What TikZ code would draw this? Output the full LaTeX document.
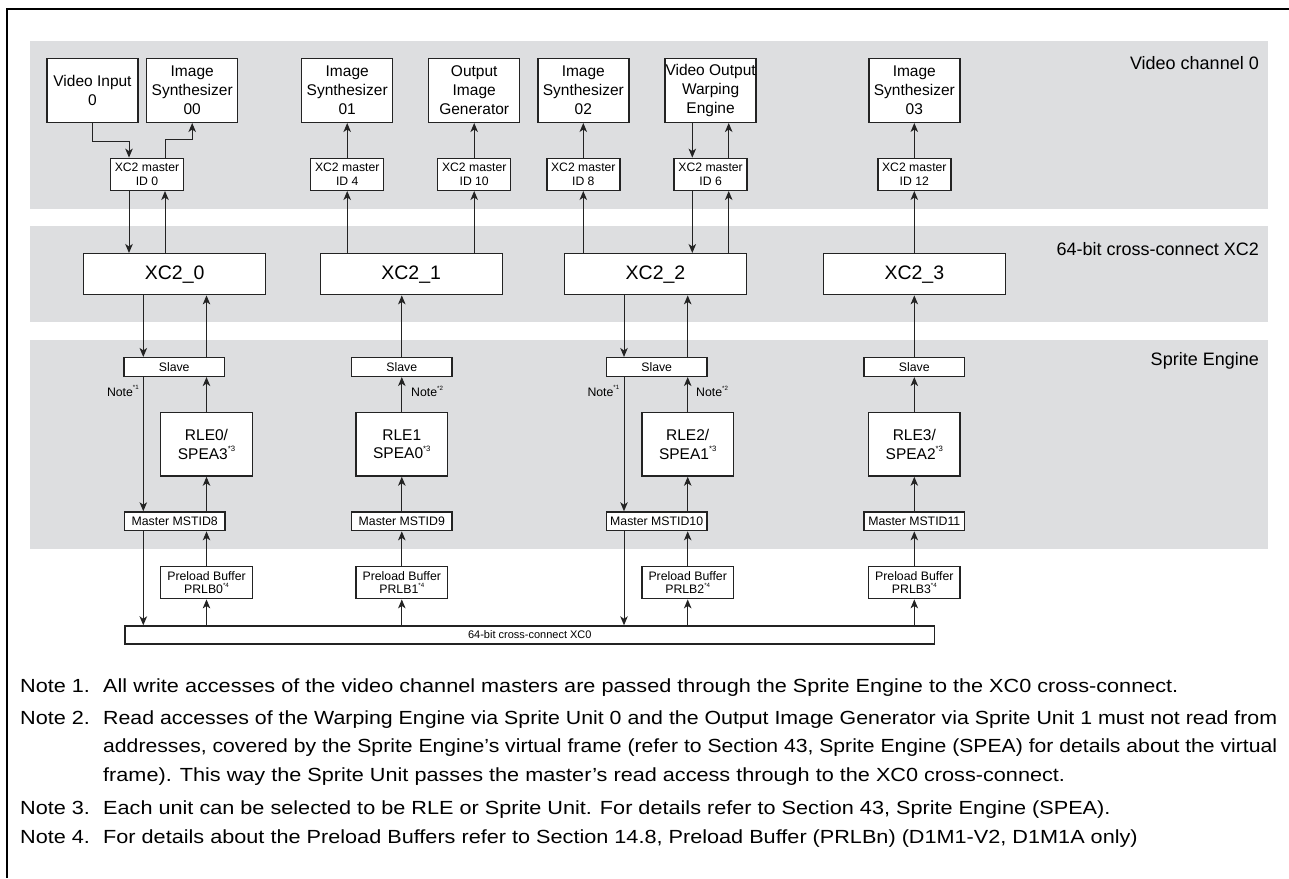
\documentclass[tikz,border=0pt]{standalone}
\usepackage{fontspec}
\usepackage{graphicx}
\setmainfont{Liberation Sans}
\newfontfamily\notefont[FakeStretch=1.14]{Liberation Sans}
\usetikzlibrary{arrows.meta}
\definecolor{band}{RGB}{221,222,224}
\definecolor{ln}{RGB}{35,35,35}
\newcommand\supsm[1]{\raisebox{0.5em}{\scalebox{0.5}{#1}}}
\begin{document}
\begin{tikzpicture}[x=1pt,y=-1pt,
  box/.style={draw=ln, line width=1.4pt, fill=white, inner sep=0pt, align=center},
  topbox/.style={box, minimum width=91pt, minimum height=64pt, font=\fontsize{15.5}{18.7}\selectfont},
  mstbox/.style={box, minimum width=73pt, minimum height=32pt, font=\fontsize{12.2}{13.3}\selectfont},
  xcbox/.style={box, minimum width=182pt, minimum height=41pt, font=\fontsize{19.5}{22}\selectfont},
  smallbox/.style={box, minimum width=100.4pt, minimum height=18.7pt, font=\fontsize{12.3}{13}\selectfont},
  rlebox/.style={box, minimum width=91.6pt, minimum height=63.7pt, font=\fontsize{15.5}{18.7}\selectfont},
  prlbox/.style={box, minimum width=91.6pt, minimum height=32pt, font=\fontsize{12.3}{12.7}\selectfont},
  lbl/.style={inner sep=0pt, font=\fontsize{18}{20}\selectfont},
  notelbl/.style={inner sep=0pt, font=\fontsize{12.3}{13}\selectfont},
  notetxt/.style={inner sep=0pt, anchor=base west, font=\notefont\fontsize{19}{22}\selectfont},
  arr/.style={draw=ln, line width=1pt, -{Stealth[length=9pt,width=7.5pt,inset=2.5pt]}},
]
\useasboundingbox (0,0) rectangle (1289,878);
% frame
\draw[line width=2pt, black] (1289,9) -- (7,9) -- (7,878);
% bands
\fill[band] (30,41) rectangle (1268,209);
\fill[band] (30,226) rectangle (1268,322);
\fill[band] (30,340) rectangle (1268,549);
\node[lbl, anchor=east] (lvc) at (1259,63) {Video channel 0};
\node[lbl, anchor=east] (lxc) at (1259,249) {64-bit cross-connect XC2};
\node[lbl, anchor=east] (lse) at (1259,361) {Sprite Engine};
% top row
\node[topbox] (vi)   at (92.5,90.3)  {Video Input\\0};
\node[topbox] (is00) at (192.2,90.3) {Image\\Synthesizer\\00};
\node[topbox] (is01) at (347.2,90.3) {Image\\Synthesizer\\01};
\node[topbox] (oig)  at (474.2,90.3) {Output\\Image\\Generator};
\node[topbox] (is02) at (583.3,90.3) {Image\\Synthesizer\\02};
\node[topbox] (vowe) at (710.6,90.3) {Video Output\\Warping\\Engine};
\node[topbox] (is03) at (914.3,90.3) {Image\\Synthesizer\\03};
% masters
\node[mstbox] (m0)  at (147,174.3)   {XC2 master\\ID 0};
\node[mstbox] (m4)  at (347.2,174.3) {XC2 master\\ID 4};
\node[mstbox] (m10) at (474.2,174.3) {XC2 master\\ID 10};
\node[mstbox] (m8)  at (583.3,174.3) {XC2 master\\ID 8};
\node[mstbox] (m6)  at (710.6,174.3) {XC2 master\\ID 6};
\node[mstbox] (m12) at (914.3,174.3) {XC2 master\\ID 12};
% XC2
\node[xcbox] (x0) at (174.7,274.2) {XC2\_0};
\node[xcbox] (x1) at (411.2,274.2) {XC2\_1};
\node[xcbox] (x2) at (655.5,274.2) {XC2\_2};
\node[xcbox] (x3) at (914.3,274.2) {XC2\_3};
% slaves
\node[smallbox] (s0) at (174.2,367) {Slave};
\node[smallbox] (s1) at (401.8,367) {Slave};
\node[smallbox] (s2) at (656.7,367) {Slave};
\node[smallbox] (s3) at (914.3,367) {Slave};
% RLE
\node[rlebox] (r0) at (206.5,444.2) {RLE0/\\SPEA3\supsm{*3}};
\node[rlebox] (r1) at (401.8,444.2) {RLE1\\SPEA0\supsm{*3}};
\node[rlebox] (r2) at (687.7,444.2) {RLE2/\\SPEA1\supsm{*3}};
\node[rlebox] (r3) at (914.3,444.2) {RLE3/\\SPEA2\supsm{*3}};
% master MSTID
\node[smallbox] (ms0) at (174.7,521.3) {Master MSTID8};
\node[smallbox] (ms1) at (401.8,521.3) {Master MSTID9};
\node[smallbox] (ms2) at (656.7,521.3) {Master MSTID10};
\node[smallbox] (ms3) at (914.3,521.3) {Master MSTID11};
% preload
\node[prlbox] (p0) at (206.5,582.7) {Preload Buffer\\PRLB0\supsm{*4}};
\node[prlbox] (p1) at (401.8,582.7) {Preload Buffer\\PRLB1\supsm{*4}};
\node[prlbox] (p2) at (687.7,582.7) {Preload Buffer\\PRLB2\supsm{*4}};
\node[prlbox] (p3) at (914.3,582.7) {Preload Buffer\\PRLB3\supsm{*4}};
% XC0
\node[box, minimum width=809.6pt, minimum height=18pt, font=\fontsize{11}{12}\selectfont] (xc0) at (529.8,635) {64-bit cross-connect XC0};
% column coordinates
\coordinate (c0a) at (129,0);
\coordinate (c0b) at (165,0);
\coordinate (c0c) at (143.3,0);
\coordinate (c2a) at (692.3,0);
\coordinate (c2b) at (728.7,0);
\coordinate (c2c) at (624,0);
% top connectors
\draw[arr] (vi.south) -- ++(0,18) -| (m0.north -| c0a);
\draw[arr] (m0.north -| c0b) -- ++(0,-18) -| (is00.south);
\draw[arr] (m0.south -| c0a) -- (x0.north -| c0a);
\draw[arr] (x0.north -| c0b) -- (m0.south -| c0b);
\draw[arr] (m4.north) -- (is01.south);
\draw[arr] (x1.north -| m4) -- (m4.south);
\draw[arr] (m10.north) -- (oig.south);
\draw[arr] (x1.north -| m10) -- (m10.south);
\draw[arr] (m8.north) -- (is02.south);
\draw[arr] (x2.north -| m8) -- (m8.south);
\draw[arr] (vowe.south -| c2a) -- (m6.north -| c2a);
\draw[arr] (m6.south -| c2a) -- (x2.north -| c2a);
\draw[arr] (x2.north -| c2b) -- (m6.south -| c2b);
\draw[arr] (m6.north -| c2b) -- (vowe.south -| c2b);
\draw[arr] (m12.north) -- (is03.south);
\draw[arr] (x3.north -| m12) -- (m12.south);
% sprite column 0
\draw[arr] (x0.south -| c0c) -- (s0.north -| c0c);
\draw[arr] (s0.north -| r0) -- (x0.south -| r0);
\draw[arr] (s0.south -| c0c) -- (ms0.north -| c0c);
\draw[arr] (r0.north) -- (s0.south -| r0);
\draw[arr] (ms0.north -| r0) -- (r0.south);
\draw[arr] (p0.north) -- (ms0.south -| p0);
\draw[arr] (xc0.north -| p0) -- (p0.south);
\draw[arr] (ms0.south -| c0c) -- (xc0.north -| c0c);
% sprite column 1
\draw[arr] (s1.north) -- (x1.south -| s1);
\draw[arr] (r1.north) -- (s1.south);
\draw[arr] (ms1.north) -- (r1.south);
\draw[arr] (p1.north) -- (ms1.south);
\draw[arr] (xc0.north -| p1) -- (p1.south);
% sprite column 2
\draw[arr] (x2.south -| c2c) -- (s2.north -| c2c);
\draw[arr] (s2.north -| r2) -- (x2.south -| r2);
\draw[arr] (s2.south -| c2c) -- (ms2.north -| c2c);
\draw[arr] (r2.north) -- (s2.south -| r2);
\draw[arr] (ms2.north -| r2) -- (r2.south);
\draw[arr] (p2.north) -- (ms2.south -| p2);
\draw[arr] (xc0.north -| p2) -- (p2.south);
\draw[arr] (ms2.south -| c2c) -- (xc0.north -| c2c);
% sprite column 3
\draw[arr] (s3.north) -- (x3.south -| s3);
\draw[arr] (r3.north) -- (s3.south);
\draw[arr] (ms3.north) -- (r3.south);
\draw[arr] (p3.north) -- (ms3.south);
\draw[arr] (xc0.north -| p3) -- (p3.south);
% note labels
\node[notelbl, anchor=east] (na) at (139,391) {Note\supsm{*1}};
\node[notelbl, anchor=west] (nb) at (411,391) {Note\supsm{*2}};
\node[notelbl, anchor=east] (nc) at (619.5,391) {Note\supsm{*1}};
\node[notelbl, anchor=west] (nd) at (696,391) {Note\supsm{*2}};
% notes
\node[notetxt] (t1a) at (20,692) {Note 1.};
\node[notetxt] (t1b) at (103,692) {All write accesses of the video channel masters are passed through the Sprite Engine to the XC0 cross-connect.};
\node[notetxt] (t2a) at (20,724) {Note 2.};
\node[notetxt] (t2b) at (103,724) {\resizebox{1174pt}{\height}{Read accesses of the Warping Engine via Sprite Unit 0 and the Output Image Generator via Sprite Unit 1 must not read from}};
\node[notetxt] (t2c) at (103,752.5) {\resizebox{1174pt}{\height}{addresses, covered by the Sprite Engine’s virtual frame (refer to Section 43, Sprite Engine (SPEA) for details about the virtual}};
\node[notetxt] (t2d) at (103,781) {frame). This way the Sprite Unit passes the master’s read access through to the XC0 cross-connect.};
\node[notetxt] (t3a) at (20,814) {Note 3.};
\node[notetxt] (t3b) at (103,814) {Each unit can be selected to be RLE or Sprite Unit. For details refer to Section 43, Sprite Engine (SPEA).};
\node[notetxt] (t4a) at (20,843) {Note 4.};
\node[notetxt] (t4b) at (103,843) {For details about the Preload Buffers refer to Section 14.8, Preload Buffer (PRLBn) (D1M1-V2, D1M1A only)};
\end{tikzpicture}
\end{document}
